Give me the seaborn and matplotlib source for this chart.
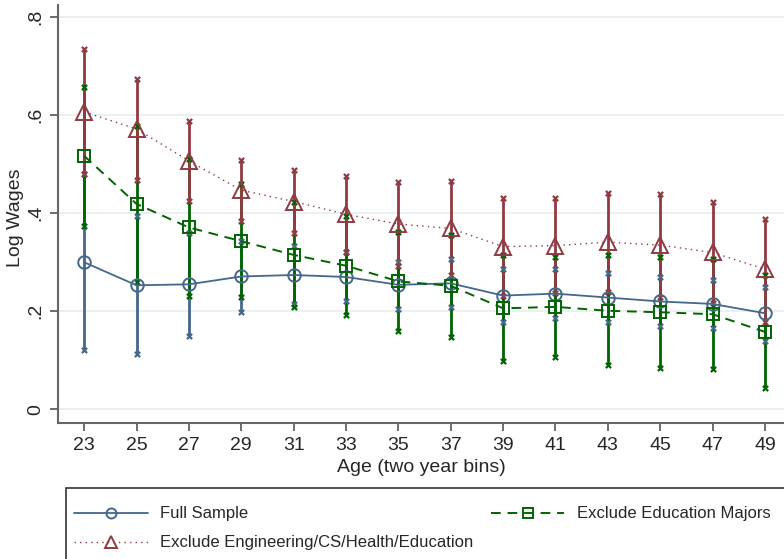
"""
Log wages by age bin, three samples, with confidence bars.
"""
import numpy as np
import matplotlib
matplotlib.use("Agg")
import matplotlib.pyplot as plt
from matplotlib.patches import Rectangle
import seaborn as sns

AGES = [23, 25, 27, 29, 31, 33, 35, 37, 39, 41, 43, 45, 47, 49]

FULL = [0.300, 0.253, 0.255, 0.271, 0.274, 0.270, 0.254, 0.257, 0.232, 0.236, 0.228, 0.220, 0.215, 0.196]
FULL_LO = [0.120, 0.112, 0.150, 0.199, 0.215, 0.220, 0.204, 0.209, 0.179, 0.187, 0.178, 0.169, 0.165, 0.140]
FULL_HI = [0.480, 0.394, 0.360, 0.343, 0.333, 0.320, 0.300, 0.306, 0.286, 0.286, 0.278, 0.269, 0.264, 0.250]

EDU = [0.517, 0.419, 0.371, 0.343, 0.315, 0.293, 0.261, 0.252, 0.206, 0.209, 0.201, 0.198, 0.194, 0.158]
EDU_LO = [0.374, 0.259, 0.232, 0.229, 0.208, 0.192, 0.160, 0.148, 0.099, 0.106, 0.090, 0.085, 0.082, 0.043]
EDU_HI = [0.658, 0.579, 0.510, 0.460, 0.422, 0.394, 0.361, 0.356, 0.315, 0.311, 0.314, 0.311, 0.306, 0.274]

ENG = [0.607, 0.572, 0.507, 0.447, 0.424, 0.398, 0.378, 0.369, 0.332, 0.334, 0.341, 0.335, 0.320, 0.286]
ENG_LO = [0.480, 0.468, 0.426, 0.384, 0.360, 0.320, 0.292, 0.273, 0.232, 0.237, 0.240, 0.230, 0.216, 0.179]
ENG_HI = [0.735, 0.675, 0.589, 0.509, 0.488, 0.476, 0.463, 0.465, 0.432, 0.431, 0.441, 0.439, 0.422, 0.388]

BLUE = "#44678a"
GREEN = "#006400"
RED = "#903a42"

sns.set_theme(style="white")
plt.rcParams["font.family"] = ["Liberation Sans", "DejaVu Sans"]

fig = plt.figure(figsize=(7.84, 5.59), dpi=100)
ax = fig.add_axes([58 / 784, 1 - 423 / 559, 1 - 58 / 784, (423 - 5) / 559])

series = [
    ("Full Sample", FULL, FULL_LO, FULL_HI, BLUE, "-", "o", 9, 1.3),
    ("Exclude Education Majors", EDU, EDU_LO, EDU_HI, GREEN, (0, (5, 3.5)), "s", 9, 1.4),
    ("Exclude Engineering/CS/Health/Education", ENG, ENG_LO, ENG_HI, RED, (0, (1, 3)), "^", 11, 1.0),
]

# confidence bars: blue under green under red
for label, mid, lo, hi, color, ls, mk, ms, lw in series:
    ax.vlines(AGES, lo, hi, color=color, linewidth=2.0, zorder=2)
    ax.scatter(AGES + AGES, lo + hi, marker="x", s=14, color=color, linewidths=1.6, zorder=3)

for label, mid, lo, hi, color, ls, mk, ms, lw in series:
    sns.lineplot(x=AGES, y=mid, ax=ax, color=color, linestyle=ls, linewidth=lw,
                 marker=mk, markersize=ms, markerfacecolor="none",
                 markeredgecolor=color, markeredgewidth=1.4, label=label, zorder=4)

ax.set_xlim(22.0, 49.73)
ax.set_ylim(-0.028, 0.825)
ax.set_xticks(AGES)
ax.set_yticks([0, 0.2, 0.4, 0.6, 0.8])
ax.set_yticklabels(["0", ".2", ".4", ".6", ".8"], rotation=90, va="center")
ax.tick_params(axis="both", labelsize=14, length=6, width=1.2, color="#555555",
               direction="out", left=True, bottom=True, pad=4)
ax.grid(axis="y", color="#e8eff1", linewidth=1.2)
ax.set_axisbelow(True)
for side in ["top", "right"]:
    ax.spines[side].set_visible(False)
for side in ["left", "bottom"]:
    ax.spines[side].set_color("#666666")
    ax.spines[side].set_linewidth(1.5)

ax.set_xlabel("Age (two year bins)", fontsize=14, labelpad=4)
ax.set_ylabel("Log Wages", fontsize=14)
ax.yaxis.set_label_coords(-0.047, 0.492)

# legend box runs off the bottom and right edges of the figure
fig.patches.append(Rectangle((66 / 784, -0.05), 1.0, 0.05 + 1 - 488 / 559,
                             transform=fig.transFigure, fill=False,
                             edgecolor="#333333", linewidth=1.2))

handles, labels = ax.get_legend_handles_labels()
ax.get_legend().remove()
order = [0, 2, 1]
leg = fig.legend([handles[i] for i in order], [labels[i] for i in order],
                 loc="upper left", ncol=2, mode="expand",
                 bbox_to_anchor=(61 / 784, 0, 1 - 61 / 784, 1 - 493 / 559),
                 fontsize=12, handlelength=4.4, handletextpad=0.75, borderpad=0.3,
                 labelspacing=0.85, frameon=False, numpoints=1, markerscale=0.8)

fig.savefig("out.png", dpi=100)
